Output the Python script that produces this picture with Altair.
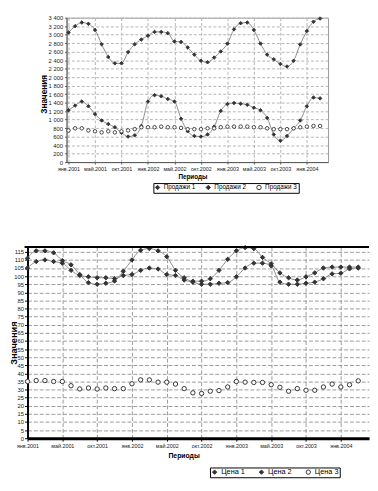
import json
import altair as alt
import pandas as pd

FONT = "Liberation Sans"

# ---- data -------------------------------------------------------------
month_idx = list(range(39))          # Jan 2001 ... Mar 2004
tick_idx = [0, 4, 8, 12, 16, 20, 24, 28, 32, 36]
tick_labels = ["янв.2001", "май.2001", "окт.2001", "янв.2002", "май.2002",
               "окт.2002", "янв.2003", "май.2003", "окт.2003", "янв.2004"]

sales_names = ["Продажи 1", "Продажи 2", "Продажи 3"]
sales_1 = [3050, 3200, 3285, 3255, 3110, 2775, 2475, 2325, 2325, 2590,
           2775, 2885, 2975, 3065, 3065, 3035, 2840, 2830, 2700, 2530,
           2385, 2350, 2460, 2605, 2790, 3125, 3270, 3285, 3110, 2790,
           2530, 2420, 2310, 2250, 2385, 2770, 3085, 3305, 3380]
sales_2 = [1220, 1330, 1425, 1315, 1130, 980, 895, 820, 690, 600,
           630, 850, 1425, 1575, 1550, 1485, 1425, 1020, 725, 615,
           600, 650, 835, 1205, 1365, 1390, 1375, 1350, 1280, 1220,
           1040, 650, 505, 615, 795, 980, 1315, 1520, 1500]
sales_3 = [745, 795, 795, 745, 725, 700, 725, 700, 725, 745,
           775, 820, 820, 820, 835, 820, 820, 805, 775, 775,
           775, 795, 795, 820, 835, 835, 835, 835, 820, 820,
           795, 775, 775, 775, 795, 820, 835, 850, 850]

price_names = ["Цена 1", "Цена 2", "Цена 3"]
price_1 = [105, 109, 110, 109, 108, 103.6, 100.4, 99.6, 99, 99,
           98.5, 100.4, 101, 103.6, 105, 104.4, 101, 100.4, 97.6, 96.3,
           95, 95, 95.6, 96, 99.6, 105, 108, 108, 106.4, 96.3,
           95, 95, 95.6, 96.3, 98.4, 101.4, 101.8, 104.5, 105]
price_2 = [111, 115.6, 115.6, 114.4, 109.6, 107, 101, 96, 95, 95.6,
           97, 103, 110, 116, 117, 115.6, 112, 103.6, 99, 96.9,
           96.9, 98.4, 103.6, 110.4, 115.6, 117.6, 117, 111.6, 107.6, 102,
           99, 97.6, 99.6, 102, 105, 105.6, 105.6, 105.6, 105.6]
price_3 = [35, 35.6, 35.6, 35, 35, 32.4, 30.4, 31, 30.4, 31,
           30.6, 30.6, 33.6, 36, 36, 34.6, 34.6, 33.4, 30.6, 28,
           27.6, 29, 29.4, 31.6, 35, 34.6, 34.4, 34.4, 33, 31.4,
           29, 30.6, 29.6, 29.6, 31.6, 33.4, 31.6, 33, 35.4]


def long_df(names, series, key):
    rows = []
    for name, vals in zip(names, series):
        for i, v in zip(month_idx, vals):
            rows.append({"idx": i, "value": v, key: name})
    return pd.DataFrame(rows)


sales_df = long_df(sales_names, [sales_1, sales_2, sales_3], "s_series")
price_df = long_df(price_names, [price_1, price_2, price_3], "p_series")

label_expr = json.dumps(tick_labels, ensure_ascii=False) + "[round(datum.value / 4)]"

LINE_C = "#8c8c8c"
MARK_C = "#333333"

# ---- top chart: sales -------------------------------------------------
TW, TH = 268, 148
x_top = alt.X("idx:Q",
              scale=alt.Scale(domain=[-0.3, 39.2], nice=False, zero=False),
              axis=alt.Axis(values=tick_idx, labelExpr=label_expr, title="Периоды",
                            grid=True, gridDash=[3, 2], gridColor="#b4b4b4",
                            tickSize=2, tickColor="#555", domainColor="#555",
                            labelFontSize=5.5, labelFont=FONT, labelColor="#222",
                            labelPadding=3, labelOverlap=False, labelFlush=False,
                            titleFont=FONT, titleFontSize=6.5, titleFontWeight="bold",
                            titlePadding=1, titleX=129))
y_top = alt.Y("value:Q",
              scale=alt.Scale(domain=[0, 3400], nice=False),
              axis=alt.Axis(values=list(range(0, 3401, 200)),
                            labelExpr="replace(format(datum.value, ','), ',', ' ')",
                            title="Значения", grid=True, gridDash=[3, 2],
                            gridColor="#b4b4b4", tickSize=2, tickColor="#555",
                            domainColor="#555", labelFontSize=6, labelFont=FONT,
                            labelColor="#222", labelPadding=2,
                            titleFont=FONT, titleFontSize=8.5, titleFontWeight="bold",
                            titleX=-19, titleY=TH / 2 + 4, titleBaseline="bottom"))

top_legend = alt.Legend(title=None, orient="none", legendX=89, legendY=169.5,
                        direction="horizontal", labelFontSize=6.5, columnPadding=8)
top_base = alt.Chart(sales_df)
top_lines = top_base.transform_filter(
    alt.datum.s_series != sales_names[2]
).mark_line(interpolate="monotone", color=LINE_C, strokeWidth=1).encode(
    x=x_top, y=y_top, detail="s_series:N")
top_points = top_base.mark_point(filled=False, size=13, strokeWidth=0.9,
                                 color=MARK_C, opacity=1).encode(
    x=x_top, y=y_top,
    shape=alt.Shape("s_series:N", scale=alt.Scale(domain=sales_names,
                                                  range=["diamond", "diamond", "circle"]),
                    legend=top_legend),
    fill=alt.Fill("s_series:N", scale=alt.Scale(domain=sales_names,
                                                range=[MARK_C, MARK_C, "white"]),
                  legend=top_legend),
)
top_chart = alt.layer(top_lines, top_points).properties(
    width=TW, height=TH, view=alt.ViewBackground(stroke="#999", strokeWidth=1))

spacer = alt.Chart(pd.DataFrame({"v": [0]})).mark_point(opacity=0).encode(
    x=alt.X("v:Q", axis=None), y=alt.Y("v:Q", axis=None)
).properties(width=11, height=10, view=alt.ViewBackground(stroke=None))

top_row = alt.hconcat(spacer, top_chart, spacing=0).resolve_scale(
    shape="independent", fill="independent"
).resolve_legend(shape="independent", fill="independent")

# ---- bottom chart: prices ---------------------------------------------
BW, BH = 350, 196
x_bot = alt.X("idx:Q",
              scale=alt.Scale(domain=[0, 39.24], nice=False, zero=False),
              axis=alt.Axis(values=tick_idx, labelExpr=label_expr, title="Периоды",
                            grid=True, gridDash=[4, 2], gridColor="#9a9a9a",
                            tickSize=3, tickColor="#000", domainColor="#000",
                            domainWidth=3,
                            labelFontSize=5.5, labelFont=FONT, labelColor="#222",
                            labelPadding=3, labelOverlap=False, labelFlush=False,
                            titleFont=FONT, titleFontSize=7, titleFontWeight="bold",
                            titlePadding=2.5, titleX=160))
y_bot = alt.Y("value:Q",
              scale=alt.Scale(domain=[0, 118], nice=False),
              axis=alt.Axis(values=list(range(0, 116, 5)),
                            title="Значения", grid=True, gridDash=[4, 2],
                            gridColor="#9a9a9a", tickSize=3, tickColor="#000",
                            domainColor="#000", domainWidth=2,
                            labelFontSize=6, labelFont=FONT, labelColor="#222",
                            labelPadding=1,
                            titleFont=FONT, titleFontSize=9.5, titleFontWeight="bold",
                            titleX=-9.5, titleY=BH / 2, titleBaseline="bottom"))

bot_legend = alt.Legend(title=None, orient="none", legendX=187, legendY=226,
                        direction="horizontal", labelFontSize=7.5, columnPadding=12)
bot_base = alt.Chart(price_df)
bot_lines = bot_base.transform_filter(
    alt.datum.p_series != price_names[2]
).mark_line(interpolate="monotone", color=LINE_C, strokeWidth=1).encode(
    x=x_bot, y=y_bot, detail="p_series:N")
bot_points = bot_base.mark_point(filled=False, size=20, strokeWidth=1,
                                 color=MARK_C, opacity=1).encode(
    x=x_bot, y=y_bot,
    shape=alt.Shape("p_series:N", scale=alt.Scale(domain=price_names,
                                                  range=["diamond", "diamond", "circle"]),
                    legend=bot_legend),
    fill=alt.Fill("p_series:N", scale=alt.Scale(domain=price_names,
                                                range=[MARK_C, MARK_C, "white"]),
                  legend=bot_legend),
)
top_border = alt.Chart(pd.DataFrame({"v": [0]})).mark_rule(
    color="#000", strokeWidth=2).encode(
    x=alt.value(-3), x2=alt.value(BW), y=alt.value(0))

bot_chart = alt.layer(bot_lines, bot_points, top_border).properties(
    width=BW, height=BH, view=alt.ViewBackground(stroke=None))

chart = alt.vconcat(top_row, bot_chart, spacing=50).resolve_scale(
    shape="independent", fill="independent"
).resolve_legend(shape="independent", fill="independent").configure_legend(
    strokeColor="#000", padding=1,
    labelFont=FONT, labelColor="#000", symbolSize=20,
    symbolStrokeWidth=1, labelOffset=3
).properties(padding={"left": 0, "top": 0, "right": 0, "bottom": 0})

chart.save("out.html", embed_options={"renderer": "svg", "actions": False})
